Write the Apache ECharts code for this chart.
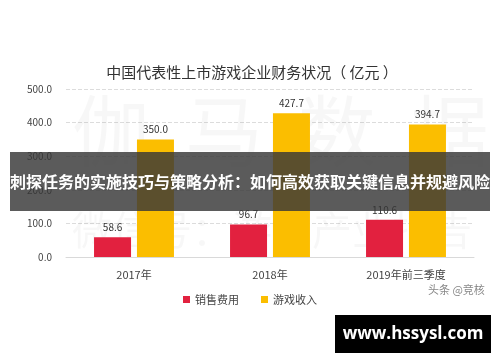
<!DOCTYPE html>
<html><head><meta charset="utf-8">
<script src="https://cdn.jsdelivr.net/npm/echarts@6/dist/echarts.min.js"></script>
<style>html,body{margin:0;padding:0;background:#fff}#c{width:500px;height:362px}</style>
</head><body><div id="c"></div>
<script>
const categories = ['2017年', '2018年', '2019年前三季度'];
const salesCost = [58.6, 96.7, 110.6];
const gameRevenue = [350.0, 427.7, 394.7];
const yTicks = [0, 100, 200, 300, 400, 500];

const chart = echarts.init(document.getElementById('c'));
const F = '"Noto Sans CJK SC", "Noto Sans", sans-serif';
chart.setOption({
  animation: false,
  textStyle: { fontFamily: F },
  title: {
    text: '中国代表性上市游戏企业财务状况（ 亿元 ）',
    left: 247, top: 60, textAlign: 'center',
    textStyle: { fontSize: 15, fontWeight: 'normal', color: '#333', fontFamily: F }
  },
  legend: {
    data: ['销售费用', '游戏收入'],
    left: 'center', top: 289, itemWidth: 7, itemHeight: 7, itemGap: 22,
    icon: 'rect',
    textStyle: { fontSize: 11, color: '#444', fontFamily: F }
  },
  grid: { left: 66, right: 26, top: 89, height: 168 },
  xAxis: {
    type: 'category', data: categories,
    axisLine: { lineStyle: { color: '#d9d9d9' } },
    axisTick: { show: false },
    axisLabel: { fontSize: 11, color: '#444', margin: 12 }
  },
  yAxis: {
    type: 'value', min: 0, max: 500, interval: 100,
    axisLabel: { fontSize: 10, color: '#444', margin: 14, formatter: v => v.toFixed(1) },
    splitLine: { lineStyle: { color: '#dcdcdc', type: 'dashed' } },
    axisLine: { show: false }, axisTick: { show: false }
  },
  series: [
    { name: '销售费用', type: 'bar', data: salesCost, barWidth: 37, barGap: '16%',
      itemStyle: { color: '#E2213F' },
      label: { show: true, position: 'top', fontSize: 10, color: '#333', formatter: p => p.value.toFixed(1) } },
    { name: '游戏收入', type: 'bar', data: gameRevenue, barWidth: 37,
      itemStyle: { color: '#FBBE00' },
      label: { show: true, position: 'top', fontSize: 10, color: '#333', formatter: p => p.value.toFixed(1) } }
  ],
  graphic: [
    { type: 'text', left: 72, top: 92, z: 1, silent: true,
      style: { text: '伽  马  数  据', fontSize: 78, fill: 'rgba(0,0,0,0.03)', fontFamily: F } },
    { type: 'text', left: 72, top: 210, z: 1, silent: true,
      style: { text: '微信号：游戏产业报告', fontSize: 40, fill: 'rgba(0,0,0,0.03)', fontFamily: F } },
    { type: 'text', left: 428, top: 284, z: 10,
      style: { text: '头条 @竞核', fontSize: 11, fill: '#888', fontFamily: F } },
    { type: 'rect', shape: { x: 10, y: 152, width: 480, height: 59 }, z: 100,
      style: { fill: 'rgba(55,55,55,0.82)' } },
    { type: 'text', x: 250, y: 182, z: 101,
      style: { text: '刺探任务的实施技巧与策略分析：如何高效获取关键信息并规避风险', fontSize: 16, fontWeight: 'bold',
        fill: '#fff', align: 'center', verticalAlign: 'middle', fontFamily: F } },
    { type: 'rect', shape: { x: 335, y: 315, width: 156, height: 38 }, z: 100,
      style: { fill: '#000' } },
    { type: 'text', x: 413, y: 334, z: 101,
      style: { text: 'www.hssysl.com', fontSize: 17, fontWeight: 'bold', fill: '#fff',
        align: 'center', verticalAlign: 'middle', fontFamily: '"Open Sans", "DejaVu Sans", sans-serif' } }
  ]
});
</script></body></html>
